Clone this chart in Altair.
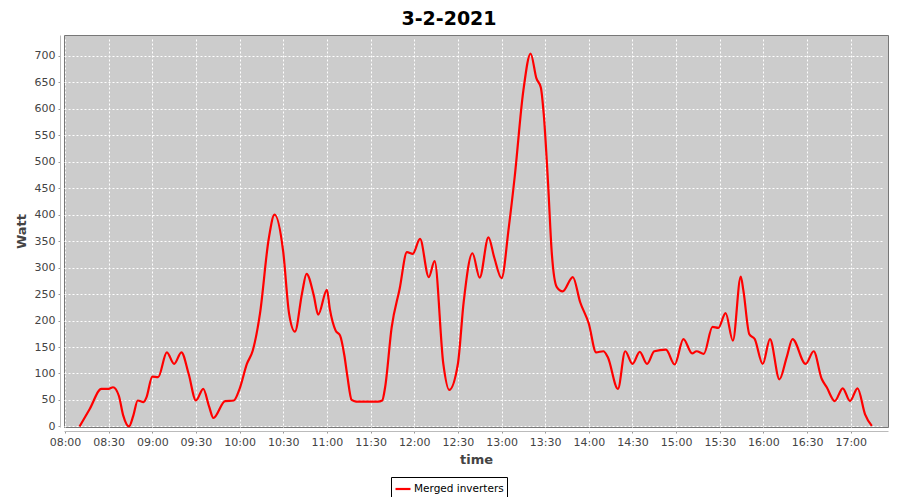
import altair as alt
import pandas as pd

# ---- data ----
times = [
    "08:10:00", "08:17:00", "08:25:00", "08:30:00", "08:33:00", "08:37:00", "08:40:00", "08:44:00",
    "08:47:00", "08:50:00", "08:54:00", "08:56:00", "09:00:00", "09:04:00", "09:10:00", "09:15:00",
    "09:20:00", "09:25:00", "09:30:00", "09:35:00", "09:39:00", "09:42:00", "09:50:00", "09:56:00",
    "10:00:00", "10:05:00", "10:09:00", "10:14:00", "10:20:00", "10:24:00", "10:30:00", "10:34:00",
    "10:38:00", "10:43:00", "10:46:00", "10:51:00", "10:54:00", "11:00:00", "11:02:00", "11:06:00",
    "11:09:00", "11:12:00", "11:14:00", "11:17:00", "11:20:00", "11:30:00", "11:35:00", "11:38:00",
    "11:40:00", "11:44:30", "11:50:00", "11:55:00", "11:59:00", "12:04:00", "12:10:00", "12:14:00",
    "12:20:00", "12:24:00", "12:30:00", "12:34:00", "12:40:00", "12:45:00", "12:51:00", "12:55:00",
    "13:00:00", "13:05:00", "13:09:00", "13:15:00", "13:20:00", "13:24:00", "13:27:00", "13:29:00",
    "13:32:00", "13:34:30", "13:38:00", "13:42:00", "13:49:00", "13:54:00", "14:00:00", "14:05:00",
    "14:10:00", "14:13:00", "14:20:00", "14:25:00", "14:30:00", "14:35:00", "14:40:00", "14:45:00",
    "14:53:00", "14:59:00", "15:05:00", "15:11:00", "15:14:00", "15:19:00", "15:25:00", "15:29:00",
    "15:34:00", "15:39:00", "15:44:24", "15:46:12", "15:50:18", "15:54:00", "15:59:30", "16:04:30",
    "16:11:00", "16:16:00", "16:20:00", "16:29:00", "16:34:30", "16:40:00", "16:43:30", "16:49:00",
    "16:54:30", "16:59:30", "17:04:40", "17:09:50", "17:14:30",
]
watts = [
    0, 33, 71, 71, 74, 58, 21, 0,
    21, 49, 46, 55, 94, 93, 140, 118,
    140, 99, 49, 71, 38, 16, 48, 49,
    71, 118, 143, 213, 354, 400, 329, 213,
    179, 253, 288, 247, 211, 258, 222, 181,
    172, 134, 96, 50, 47, 47, 47, 49,
    74, 187, 260, 329, 326, 354, 282, 312,
    118, 69, 118, 235, 327, 281, 357, 319,
    280, 376, 470, 634, 704, 657, 640, 590,
    458, 329, 263, 255, 282, 235, 194, 140,
    142, 131, 71, 142, 118, 141, 118, 142,
    145, 117, 165, 138, 142, 137, 188, 186,
    214, 162, 283, 257, 174, 165, 118, 165,
    89, 131, 165, 118, 142, 90, 74, 48,
    72, 48, 72, 23, 1,
]
series_name = "Merged inverters"
tick_labels = ["08:00", "08:30", "09:00", "09:30", "10:00", "10:30", "11:00", "11:30", "12:00",
               "12:30", "13:00", "13:30", "14:00", "14:30", "15:00", "15:30", "16:00", "16:30", "17:00"]
y_ticks = list(range(0, 701, 50))
title_text = "3-2-2021"

df = pd.DataFrame({
    "time": ["2021-02-03T" + t for t in times],
    "watt": watts,
    "series": [series_name] * len(times),
})


def dt(h, m, s=0):
    return alt.DateTime(year=2021, month=2, date=3, hours=h, minutes=m, seconds=s)


x_values = [dt(int(t[:2]), int(t[3:])) for t in tick_labels]

FONT = "DejaVu Sans"

chart = alt.Chart(df).mark_line(interpolate="monotone", strokeWidth=2.2).encode(
    x=alt.X(
        "time:T",
        title="time",
        scale=alt.Scale(domain=[dt(7, 59, 19), dt(17, 25, 36)], nice=False),
        axis=alt.Axis(format="%H:%M", values=x_values, labelOverlap=False, labelFlush=False,
                      titlePadding=6),
    ),
    y=alt.Y(
        "watt:Q",
        title="Watt",
        scale=alt.Scale(domain=[-1, 739], nice=False, zero=False),
        axis=alt.Axis(values=y_ticks, labelOverlap=False, labelFlush=False, titlePadding=6),
    ),
    color=alt.Color(
        "series:N",
        scale=alt.Scale(range=["#FF0000"]),
        legend=alt.Legend(
            title=None, orient="none", legendX=327, legendY=442,
            strokeColor="black", fillColor="white", padding=3, cornerRadius=0,
            symbolType="stroke", symbolSize=225, symbolStrokeWidth=2.2,
            labelFont=FONT, labelFontSize=10.5, labelColor="black", labelOffset=2,
        ),
    ),
).properties(
    width=824,
    height=392,
    autosize=alt.AutoSizeParams(type="none"),
    padding={"left": 56, "top": 27, "right": 4, "bottom": 70},
    title=alt.TitleParams(title_text, font=FONT, fontSize=19, fontWeight="bold", color="black",
                          anchor="middle", dx=-27, offset=6),
).configure_view(
    fill="#CCCCCC", stroke="#777777", strokeWidth=1,
).configure_axis(
    grid=True, gridColor="white", gridDash=[2, 2], gridWidth=1,
    domainColor="#BBBBBB", tickColor="#999999", tickSize=2, offset=4, labelPadding=3,
    labelFont=FONT, labelFontSize=11, labelColor="#444444",
    titleFont=FONT, titleFontSize=13, titleFontWeight="bold", titleColor="#444444",
)

chart.save("out.html", embed_options={"renderer": "svg", "actions": False})
